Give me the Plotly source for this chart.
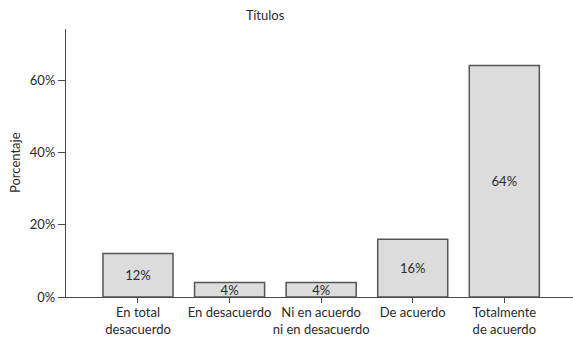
import plotly.graph_objects as go

# Survey responses for "Títulos"
categories = [
    "En total<br>desacuerdo",
    "En desacuerdo",
    "Ni en acuerdo<br>ni en desacuerdo",
    "De acuerdo",
    "Totalmente<br>de acuerdo",
]
percentages = [12, 4, 4, 16, 64]
y_tick_values = [0, 20, 40, 60]
y_tick_labels = ["0%", "20%", "40%", "60%"]

FONT = "Lato, 'Open Sans', sans-serif"
INK = "#2b2b2b"
AXIS = "#4a4a4a"

fig = go.Figure(
    go.Bar(
        x=list(range(len(categories))),
        y=percentages,
        text=[f"{v}%" for v in percentages],
        textposition="inside",
        insidetextanchor="middle",
        constraintext="none",
        textfont=dict(family=FONT, size=13, color=INK),
        marker=dict(color="#dcdcdc", line=dict(color="#555555", width=1.5)),
        width=0.765,
        hoverinfo="skip",
    )
)

fig.update_layout(
    width=573,
    height=337,
    margin=dict(l=66, r=0, t=29, b=40),
    paper_bgcolor="white",
    plot_bgcolor="white",
    showlegend=False,
    font=dict(family=FONT, size=13, color=INK),
    annotations=[
        dict(
            text="Títulos",
            xref="paper", yref="paper",
            x=0.394, y=1.0, yshift=14,
            xanchor="center", yanchor="middle",
            showarrow=False,
            font=dict(family=FONT, size=13, color=INK),
        ),
        dict(
            text="Porcentaje",
            xref="paper", yref="paper",
            x=0, xshift=-51, y=0.5,
            xanchor="center", yanchor="middle",
            textangle=-90,
            showarrow=False,
            font=dict(family=FONT, size=13, color=INK),
        ),
    ],
)

fig.update_xaxes(
    range=[-0.786, 4.75],
    tickmode="array",
    tickvals=list(range(len(categories))),
    ticktext=categories,
    tickangle=0,
    ticklabelstandoff=-2,
    automargin=False,
    showline=True,
    linecolor=AXIS,
    linewidth=1.2,
    ticks="outside",
    ticklen=5,
    tickcolor=AXIS,
    showgrid=False,
    zeroline=False,
    tickfont=dict(family=FONT, size=13, color=INK),
    fixedrange=True,
)

fig.update_yaxes(
    range=[0, 74.1],
    tickmode="array",
    tickvals=y_tick_values,
    ticktext=y_tick_labels,
    automargin=False,
    showline=True,
    linecolor=AXIS,
    linewidth=1.2,
    ticks="outside",
    ticklen=7,
    tickcolor=AXIS,
    showgrid=False,
    zeroline=False,
    tickfont=dict(family=FONT, size=13, color=INK),
    fixedrange=True,
)

fig.write_html("out.html", config={"displayModeBar": False})
